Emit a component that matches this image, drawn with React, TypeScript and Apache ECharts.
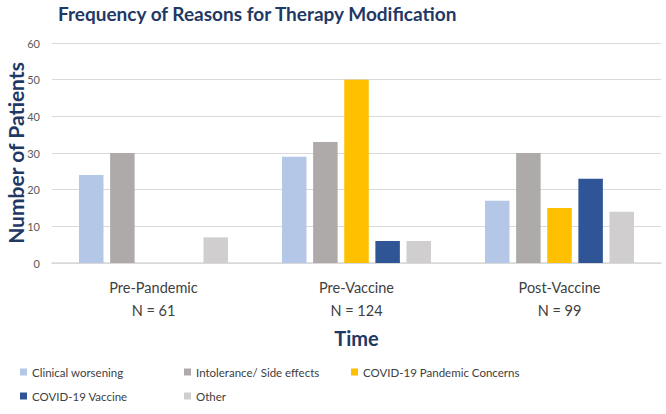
import React, { useEffect, useRef } from "react";
import * as echarts from "echarts";

const categories = ["Pre-Pandemic\nN = 61", "Pre-Vaccine\nN = 124", "Post-Vaccine\nN = 99"];
const seriesNames = [
  "Clinical worsening",
  "Intolerance/ Side effects",
  "COVID-19 Pandemic Concerns",
  "COVID-19 Vaccine",
  "Other",
];
const clinicalWorsening = [24, 29, 17];
const intolerance = [30, 33, 30];
const pandemicConcerns = [null, 50, 15];
const vaccine = [null, 6, 23];
const other = [7, 6, 14];
const yTicks = { min: 0, max: 60, interval: 10 };

const colors = ["#B4C7E7", "#AEAAAA", "#FFC000", "#2F5597", "#D0CECE"];
const FONT = "Lato, 'Open Sans', sans-serif";

export default function App() {
  const ref = useRef<HTMLDivElement>(null);
  useEffect(() => {
    document.body.style.margin = "0";
    if (!ref.current) return;
    const chart = echarts.init(ref.current, null, { renderer: "svg" });
    const values = [clinicalWorsening, intolerance, pandemicConcerns, vaccine, other];
    const legendPos = [
      { left: 20, top: 366 },
      { left: 184, top: 366 },
      { left: 351, top: 366 },
      { left: 20, top: 390 },
      { left: 184, top: 390 },
    ];
    chart.setOption({
      animation: false,
      textStyle: { fontFamily: FONT },
      title: {
        text: "Frequency of Reasons for Therapy Modification",
        left: 58,
        top: 4,
        padding: 0,
        textStyle: { fontFamily: FONT, fontSize: 19, fontWeight: "bold", color: "#1F3864" },
      },
      legend: seriesNames.map((n, i) => ({
        data: [n],
        left: legendPos[i].left,
        top: legendPos[i].top,
        padding: 0,
        icon: "rect",
        itemWidth: 7,
        itemHeight: 7,
        itemGap: 4,
        textStyle: { fontFamily: FONT, fontSize: 11.5, color: "#404040" },
      })),
      grid: { left: 52, right: 5, top: 43, bottom: 151, outerBoundsMode: "none", containLabel: false },
      xAxis: {
        type: "category",
        data: categories,
        name: "Time",
        nameLocation: "middle",
        nameGap: 65,
        nameTextStyle: { fontFamily: FONT, fontSize: 20, fontWeight: "bold", color: "#1F3864" },
        axisTick: { show: false },
        axisLine: { lineStyle: { color: "#D9D9D9", width: 1.5 } },
        axisLabel: { fontFamily: FONT, fontSize: 14.5, color: "#404040", lineHeight: 23, margin: 13 },
      },
      yAxis: {
        type: "value",
        min: yTicks.min,
        max: yTicks.max,
        interval: yTicks.interval,
        name: "Number of Patients",
        nameLocation: "middle",
        nameRotate: 90,
        nameGap: 26,
        nameMoveOverlap: false,
        nameTextStyle: { fontFamily: FONT, fontSize: 21, fontWeight: "bold", color: "#1F3864" },
        axisLine: { show: false },
        axisTick: { show: false },
        axisLabel: { fontFamily: FONT, fontSize: 11, color: "#595959", margin: 12 },
        splitLine: { lineStyle: { color: "#D9D9D9", width: 1 } },
      },
      series: seriesNames.map((n, i) => ({
        name: n,
        type: "bar",
        data: values[i],
        barGap: "27%",
        barCategoryGap: "26.6%",
        itemStyle: { color: colors[i] },
      })),
    });
    return () => chart.dispose();
  }, []);
  return <div ref={ref} style={{ width: 666, height: 414 }} />;
}
